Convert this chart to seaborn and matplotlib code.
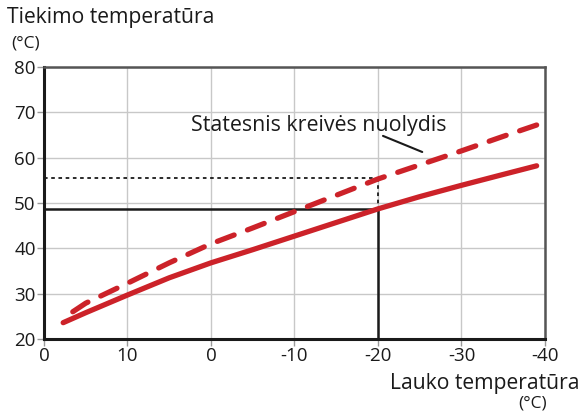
import matplotlib
matplotlib.use("Agg")
import matplotlib.pyplot as plt
import seaborn as sns
import pandas as pd

# Heating curve data: outdoor temperature vs. supply temperature
outdoor = [17.7, 15, 10, 5, 0, -5, -10, -15, -20, -25, -30, -35, -39]
supply_normal = [23.6, 25.8, 29.7, 33.5, 36.8, 39.7, 42.7, 45.7, 48.7, 51.4, 53.9, 56.3, 58.2]
supply_steeper = [24.6, 27.9, 32.3, 36.8, 41.0, 44.5, 48.1, 51.7, 55.3, 58.4, 61.5, 64.7, 67.2]

x_ticks = [20, 10, 0, -10, -20, -30, -40]
x_tick_labels = ["0", "10", "0", "-10", "-20", "-30", "-40"]
y_ticks = [20, 30, 40, 50, 60, 70, 80]

# Reference point
ref_outdoor = -20
ref_normal = 48.7
ref_steeper = 55.6

annotation = "Statesnis kreivės nuolydis"

sns.set_theme(style="white")
plt.rcParams["font.family"] = ["Open Sans", "DejaVu Sans"]

df = pd.DataFrame({
    "outdoor": outdoor + outdoor,
    "supply": supply_normal + supply_steeper,
    "curve": ["normal"] * len(outdoor) + ["steeper"] * len(outdoor),
})

fig = plt.figure(figsize=(5.81, 4.12), dpi=100)
ax = fig.add_axes([0.0757, 0.1772, 0.938 - 0.0757, 0.8374 - 0.1772])

red = "#cc2229"
sns.lineplot(data=df[df.curve == "normal"], x="outdoor", y="supply", ax=ax,
             color=red, lw=3.8, solid_capstyle="round", solid_joinstyle="round",
             zorder=5, legend=False)
sns.lineplot(data=df[df.curve == "steeper"], x="outdoor", y="supply", ax=ax,
             color=red, lw=3.8, zorder=5, legend=False)
ax.lines[-1].set_dashes((3.4, 2.7))
ax.lines[-1].set_dash_capstyle("round")
ax.lines[-1].set_dash_joinstyle("round")

# Reference guides
ax.plot([20, ref_outdoor], [ref_normal, ref_normal], color="#1a1a1a", lw=1.8, zorder=4)
ax.plot([ref_outdoor, ref_outdoor], [20, ref_normal], color="#1a1a1a", lw=1.8, zorder=4)
ax.plot([20, ref_outdoor], [ref_steeper, ref_steeper], color="#1a1a1a", lw=1.3,
        ls=(0, (2.0, 2.0)), zorder=4)
ax.plot([ref_outdoor, ref_outdoor], [ref_steeper, ref_normal], color="#1a1a1a", lw=1.3,
        ls=(0, (2.0, 2.0)), zorder=4)

ax.set_xlim(20, -40)
ax.set_ylim(20, 80)
ax.set_xticks(x_ticks)
ax.set_xticklabels(x_tick_labels)
ax.set_yticks(y_ticks)
ax.grid(True, color="#c8c8c8", lw=1.0)
ax.set_axisbelow(True)
ax.tick_params(axis="both", which="both", length=5, width=1, color="#9a9a9a",
               labelsize=13.5, labelcolor="#1a1a1a", pad=1, direction="out")
ax.tick_params(bottom=True, left=True)
ax.set_xlabel("")
ax.set_ylabel("")

for side in ("left", "bottom"):
    ax.spines[side].set_color("#1a1a1a")
    ax.spines[side].set_linewidth(2.2)
for side in ("top", "right"):
    ax.spines[side].set_color("#555555")
    ax.spines[side].set_linewidth(1.8)

# Annotation with leader line
ax.text(-12.9, 67.2, annotation, ha="center", va="center", fontsize=15.4, color="#1a1a1a")
ax.plot([-20.6, -25.3], [64.8, 61.25], color="#1a1a1a", lw=1.5, zorder=4)

# Axis titles
fig.text(7 / 581, 1 - 18 / 412, "Tiekimo temperatūra", ha="left", va="center",
         fontsize=15.2, color="#1a1a1a")
fig.text(11 / 581, 1 - 44 / 412, "(°C)", ha="left", va="center",
         fontsize=12.5, color="#1a1a1a")
fig.text(579 / 581, 1 - 383 / 412, "Lauko temperatūra", ha="right", va="center",
         fontsize=15.2, color="#1a1a1a")
fig.text(533 / 581, 1 - 404 / 412, "(°C)", ha="center", va="center",
         fontsize=12.5, color="#1a1a1a")

fig.savefig("out.png", dpi=100)
